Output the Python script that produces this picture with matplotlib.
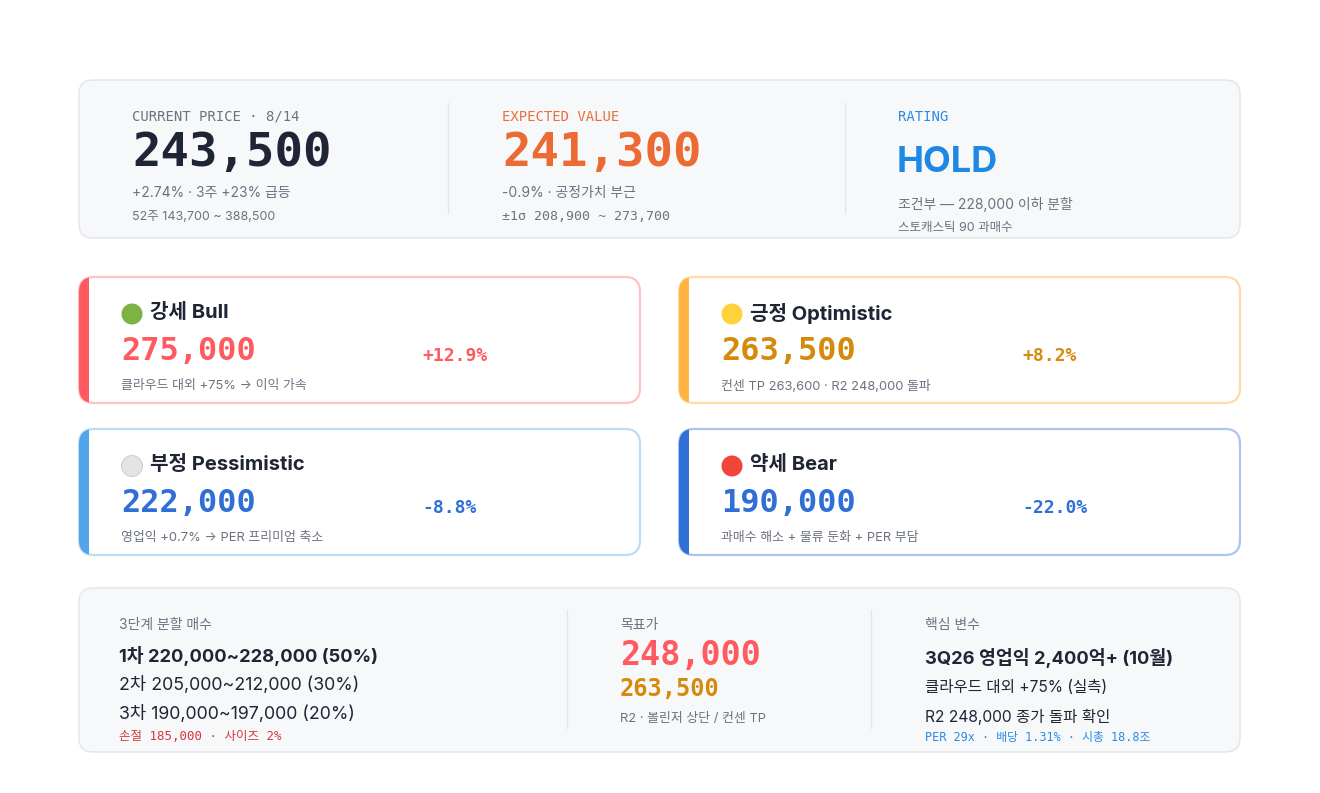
import matplotlib.pyplot as plt
from matplotlib.patches import FancyBboxPatch, Rectangle, Circle

SANS = ['Inter', 'Noto Sans CJK KR', 'DejaVu Sans']
MONO = ['DejaVu Sans Mono', 'Noto Sans CJK KR']

DARK = '#1f2535'
GRAY = '#6b7280'
PANEL = '#f7f8fa'
PANEL_EDGE = '#e2e5ea'

# --- top summary ---
current_price = 243500
current_date = '8/14'
current_notes = ['+2.74% · 3주 +23% 급등', '52주 143,700 ~ 388,500']
expected_value = 241300
expected_notes = ['-0.9% · 공정가치 부근', '±1σ 208,900 ~ 273,700']
rating = 'HOLD'
rating_notes = ['조건부 — 228,000 이하 분할', '스토캐스틱 90 과매수']

# --- scenarios ---
scen_names = ['강세 Bull', '긍정 Optimistic', '부정 Pessimistic', '약세 Bear']
scen_prices = [275000, 263500, 222000, 190000]
scen_pcts = [12.9, 8.2, -8.8, -22.0]
scen_notes = ['클라우드 대외 +75% → 이익 가속',
              '컨센 TP 263,600 · R2 248,000 돌파',
              '영업익 +0.7% → PER 프리미엄 축소',
              '과매수 해소 + 물류 둔화 + PER 부담']
scen_dot = ['#7cb342', '#fdd23a', '#e4e4e4', '#f1443a']
scen_accent = ['#ff5a5f', '#ffb443', '#52a5ea', '#2f6fd6']
scen_border = ['#ffc3c5', '#ffdba6', '#bddcf7', '#aac5f0']
scen_color = ['#ff5a5f', '#d68a0c', '#2f6fd6', '#2f6fd6']

# --- bottom plan ---
buy_steps = ['1차 220,000~228,000 (50%)', '2차 205,000~212,000 (30%)', '3차 190,000~197,000 (20%)']
stop_note = '손절 185,000 · 사이즈 2%'
targets = [248000, 263500]
target_note = 'R2 · 볼린저 상단 / 컨센 TP'
key_vars = ['3Q26 영업익 2,400억+ (10월)', '클라우드 대외 +75% (실측)', 'R2 248,000 종가 돌파 확인']
key_foot = 'PER 29x · 배당 1.31% · 시총 18.8조'

fig = plt.figure(figsize=(13.2, 7.93), dpi=100)
ax = fig.add_axes([0, 0, 1, 1])
ax.set_xlim(0, 1320)
ax.set_ylim(793, 0)
ax.axis('off')


def panel(x, y, w, h, face, edge, lw=1.0, r=14):
    p = FancyBboxPatch((x, y), w, h, boxstyle=f'round,pad=0,rounding_size={r}',
                       fc=face, ec=edge, lw=lw, zorder=1)
    ax.add_patch(p)
    return p


def txt(x, y, s, size, color=GRAY, weight='normal', family=SANS, **kw):
    ax.text(x, y, s, fontsize=size, color=color, fontweight=weight,
            family=family, va='center', ha='left', **kw)


def money(v):
    return f'{v:,}'


# top panel
panel(79, 80, 1161, 158, PANEL, PANEL_EDGE)
for dx in (448, 845):
    ax.plot([dx, dx], [103, 213], color='#e3e6ea', lw=1, zorder=2)

txt(132, 117, f'CURRENT PRICE · {current_date}', 10, GRAY, family=MONO)
txt(132, 154, money(current_price), 34, DARK, 'bold', MONO)
txt(132, 193, current_notes[0], 10, GRAY)
txt(132, 217, current_notes[1], 9, GRAY)

txt(502, 117, 'EXPECTED VALUE', 10, '#e8703a', family=MONO)
txt(502, 154, money(expected_value), 34, '#ec6a34', 'bold', MONO)
txt(502, 193, expected_notes[0], 10, GRAY)
txt(502, 217, expected_notes[1], 9.5, GRAY, family=MONO)

txt(898, 117, 'RATING', 10, '#2b8ae6', family=MONO)
txt(897, 163, rating, 26, '#1e88e5', 'bold')
txt(898, 204, rating_notes[0], 10, GRAY)
txt(898, 228, rating_notes[1], 9, GRAY)

# scenario cards
card_pos = [(79, 277), (679, 277), (79, 429), (679, 429)]
for i, (cx, cy) in enumerate(card_pos):
    w, h = 561, 126
    card = panel(cx, cy, w, h, 'white', scen_border[i], lw=1.6, r=15)
    bar = Rectangle((cx - 2, cy - 2), 12, h + 4, fc=scen_accent[i], ec='none', zorder=3)
    ax.add_patch(bar)
    bar.set_clip_path(card)
    ax.add_patch(Circle((cx + 53, cy + 37), 10.5, fc=scen_dot[i],
                        ec='#c9c9c9' if i == 2 else 'none', lw=0.6, zorder=3))
    txt(cx + 71, cy + 36, scen_names[i], 14.5, DARK, 'bold')
    txt(cx + 42, cy + 75, money(scen_prices[i]), 23, scen_color[i], 'bold', MONO)
    txt(cx + 343, cy + 79, f'{scen_pcts[i]:+.1f}%', 13, scen_color[i], 'bold', MONO)
    txt(cx + 42, cy + 109, scen_notes[i], 9.3, GRAY)

# bottom panel
panel(79, 588, 1161, 164, PANEL, PANEL_EDGE)
for dx in (567, 871):
    ax.plot([dx, dx], [610, 728], color='#e3e6ea', lw=1, zorder=2)

txt(119, 625, '3단계 분할 매수', 10, GRAY)
for j, step in enumerate(buy_steps):
    txt(119, 656 + j * 29, step, 13.2 if j == 0 else 12.8, DARK, 'bold' if j == 0 else 'normal')
txt(119, 736, stop_note, 9, '#d8363e', family=MONO)

txt(620, 625, '목표가', 10, GRAY)
txt(620, 656, money(targets[0]), 24, '#ff5a5f', 'bold', MONO)
txt(620, 689, money(targets[1]), 17, '#d68a0c', 'bold', MONO)
txt(620, 719, target_note, 9.3, GRAY)

txt(925, 625, '핵심 변수', 10, GRAY)
txt(925, 658, key_vars[0], 13.2, DARK, 'bold')
txt(925, 688, key_vars[1], 11.2, DARK)
txt(925, 717, key_vars[2], 11.2, DARK)
txt(925, 738, key_foot, 8.5, '#2b8ae6', family=MONO)

fig.savefig('out.png', dpi=100, facecolor='white')
